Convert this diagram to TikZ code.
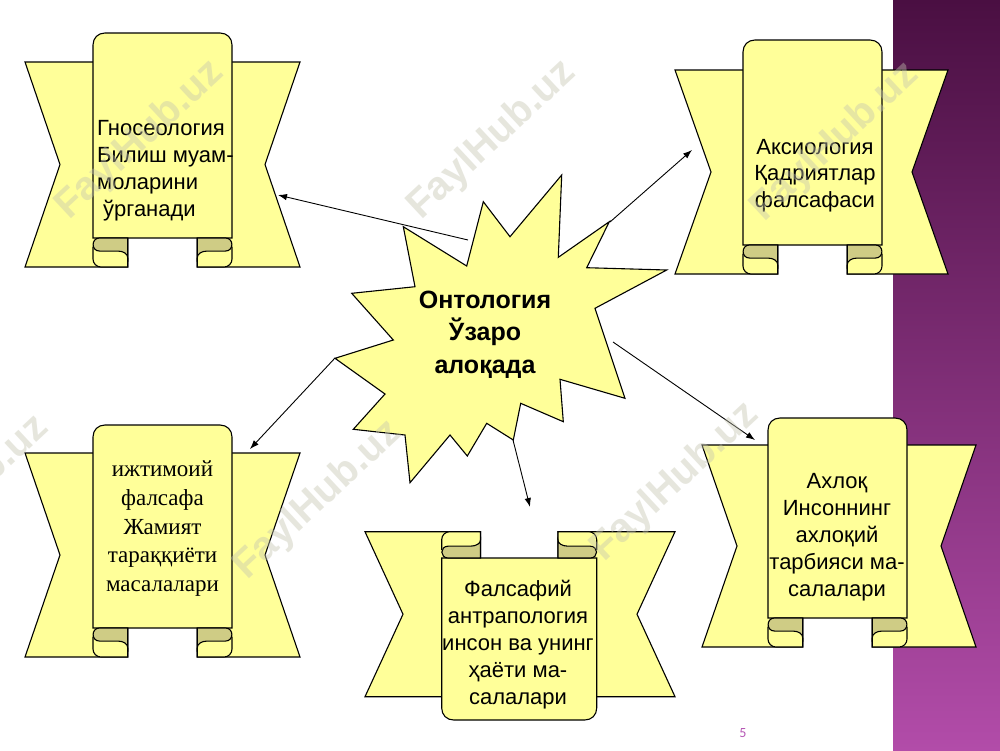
\documentclass[tikz,border=0pt]{standalone}
\usepackage{fontspec}
\setmainfont{Liberation Serif}
\setsansfont{Liberation Sans}
\newfontfamily\numfont{Carlito}
\usetikzlibrary{arrows.meta}
\definecolor{ribfill}{HTML}{FFFF99}
\definecolor{curlfill}{HTML}{CFCC85}
\definecolor{plumtop}{HTML}{4A0F42}
\definecolor{plumbot}{HTML}{B24CA9}
\definecolor{pagenum}{HTML}{B657B5}
\definecolor{wmark}{HTML}{C4C4B0}
\tikzset{
  ribbonline/.style={fill=ribfill, draw=black, line width=1.1pt},
  curlline/.style={fill=curlfill, draw=black, line width=1.1pt},
  conn/.style={draw=black, line width=0.9pt, -{Latex[length=9pt,width=6.5pt]}},
  wm/.style={font=\sffamily\bfseries\fontsize{40}{40}\selectfont, text=wmark, opacity=0.42, inner sep=0, rotate=43},
  lbl/.style={inner sep=0}
}
\newcommand\curlpiece[4]{% #1 PL, #2 x1, #3 CT, #4 B
  \pgfmathsetmacro\cvH{#4-#3}%
  \pgfmathsetmacro\cvA{#3+0.45*\cvH}%
  \pgfmathsetmacro\cvB{#3+0.68*\cvH}%
  \pgfmathsetmacro\cvC{#3+0.30*\cvH}%
  \fill[ribfill] (#1,\cvC) -- (#1,#4-8) .. controls (#1,#4-3.5) and (#1+3.5,#4) .. (#1+8,#4) -- (#2,#4) -- (#2,\cvB) -- cycle;
  \draw[line width=1.1pt] (#1,\cvC) -- (#1,#4-8) .. controls (#1,#4-3.5) and (#1+3.5,#4) .. (#1+8,#4) -- (#2,#4) -- (#2,\cvB);
  \filldraw[curlline] (#1+6.5,#3) -- (#2,#3) -- (#2,\cvB) .. controls (#2,\cvA+3) and (#2-4,\cvA) .. (#2-10,\cvA) -- (#1+6.5,\cvA) .. controls (#1-2,\cvA) and (#1-2,#3) .. (#1+6.5,#3) -- cycle;
}
\newcommand\ribbonbanner[9]{% #1 XL #2 XR #3 TT #4 B #5 PL #6 PR #7 PT #8 CT #9 notch
  \pgfmathsetmacro\rbW{(#6-#5)/4}%
  \pgfmathsetmacro\rbL{#5+\rbW}%
  \pgfmathsetmacro\rbR{#6-\rbW}%
  \pgfmathsetmacro\rbM{(#3+#4)/2}%
  \pgfmathsetmacro\rbS{#5+#6}%
  \filldraw[ribbonline] (#1,#3) -- (\rbL,#3) -- (\rbL,#4) -- (#1,#4) -- (#1+#9,\rbM) -- cycle;
  \filldraw[ribbonline] (#2,#3) -- (\rbR,#3) -- (\rbR,#4) -- (#2,#4) -- (#2-#9,\rbM) -- cycle;
  \filldraw[ribbonline] (#5,#8) -- (#5,#7+12) .. controls (#5,#7+5) and (#5+5,#7) .. (#5+12,#7) -- (#6-12,#7) .. controls (#6-5,#7) and (#6,#7+5) .. (#6,#7+12) -- (#6,#8) -- cycle;
  \curlpiece{#5}{\rbL}{#8}{#4}
  \begin{scope}[shift={(\rbS,0)},xscale=-1]\curlpiece{#5}{\rbL}{#8}{#4}\end{scope}
}
\begin{document}
\begin{tikzpicture}[x=1pt,y=-1pt]
\useasboundingbox (0,0) rectangle (1000,750);
\fill[white] (0,0) rectangle (1000,750);
\shade[top color=plumtop, bottom color=plumbot] (893,0) rectangle (1000,750);

% banners
\ribbonbanner{25}{300}{62}{267}{93}{232}{33}{238}{35}
\ribbonbanner{675}{948}{70}{274}{743}{882}{40}{245}{36}
\ribbonbanner{25}{300}{453}{657}{93}{232}{425}{628}{35}
\ribbonbanner{702}{976}{445}{647}{768}{907}{418}{618}{35}
\begin{scope}[shift={(0,1228.4)},yscale=-1]
\ribbonbanner{365}{675}{531.7}{696.7}{441.7}{596.7}{508.4}{670.4}{38}
\end{scope}

% central star
\filldraw[ribbonline] (561.7,175) -- (558.3,257.3) -- (609.3,221.7) -- (586.7,267.7) -- (666.7,270) -- (595,308.3) -- (625,398.3) -- (560,379.3) -- (563.3,421.7) -- (520.7,403.3) -- (513.3,440) -- (486.7,423.3) -- (467.3,456) -- (450,435) -- (410,482.7) -- (405,435) -- (353.3,429.3) -- (385,394) -- (335,358.3) -- (393.3,340) -- (351.7,293.3) -- (415,286.7) -- (403.3,226.7) -- (466.7,266) -- (483.3,201.7) -- (510,236.7) -- cycle;

% texts
\node[lbl, anchor=base] (onto) at (485,308) {\parbox[t]{200pt}{\centering\sffamily\bfseries\fontsize{25}{32.5}\selectfont Онтология\\Ўзаро\\алоқада}};
\node[lbl, anchor=base west] (gnos) at (97,135) {\parbox[t]{150pt}{\raggedright\sffamily\fontsize{22}{27}\selectfont Гносеология\\Билиш муам-\\моларини\\\hspace*{6pt}ўрганади}};
\node[lbl, anchor=base] (axio) at (815,154) {\parbox[t]{170pt}{\centering\sffamily\fontsize{22}{26.5}\selectfont Аксиология\\Қадриятлар\\фалсафаси}};
\node[lbl, anchor=base] (ijti) at (162.5,476.7) {\parbox[t]{170pt}{\centering\rmfamily\fontsize{23}{28.7}\selectfont ижтимоий\\фалсафа\\Жамият\\тараққиёти\\масалалари}};
\node[lbl, anchor=base] (fals) at (518,596) {\parbox[t]{180pt}{\centering\sffamily\fontsize{22}{27.2}\selectfont Фалсафий\\антрапология\\инсон ва унинг\\ҳаёти ма-\\салалари}};
\node[lbl, anchor=base] (axloq) at (837,488.3) {\parbox[t]{180pt}{\centering\sffamily\fontsize{22}{27}\selectfont Ахлоқ\\Инсоннинг\\ахлоқий\\тарбияси ма-\\салалари}};
\node[lbl, font=\numfont\fontsize{14}{14}\selectfont, text=pagenum] (pg) at (743,733) {5};

% connectors
\coordinate (s1) at (468,240); \coordinate (e1) at (278,195);
\coordinate (s2) at (610,222); \coordinate (e2) at (692,150);
\coordinate (s3) at (613,342); \coordinate (e3) at (755,440);
\coordinate (s4) at (335,358); \coordinate (e4) at (250,449);
\coordinate (s5) at (513,440); \coordinate (e5) at (530,507);
\draw[conn] (s1) -- (e1);
\draw[conn] (s2) -- (e2);
\draw[conn] (s3) -- (e3);
\draw[conn] (s4) -- (e4);
\draw[conn] (s5) -- (e5);

% watermarks
\node[wm] (wm1) at (140,140) {FaylHub.uz};
\node[wm] (wm2) at (492,140) {FaylHub.uz};
\node[wm] (wm3) at (835,142) {FaylHub.uz};
\node[wm] (wm4) at (-35,495) {FaylHub.uz};
\node[wm] (wm5) at (318,500) {FaylHub.uz};
\node[wm] (wm6) at (675,482) {FaylHub.uz};
\end{tikzpicture}
\end{document}
